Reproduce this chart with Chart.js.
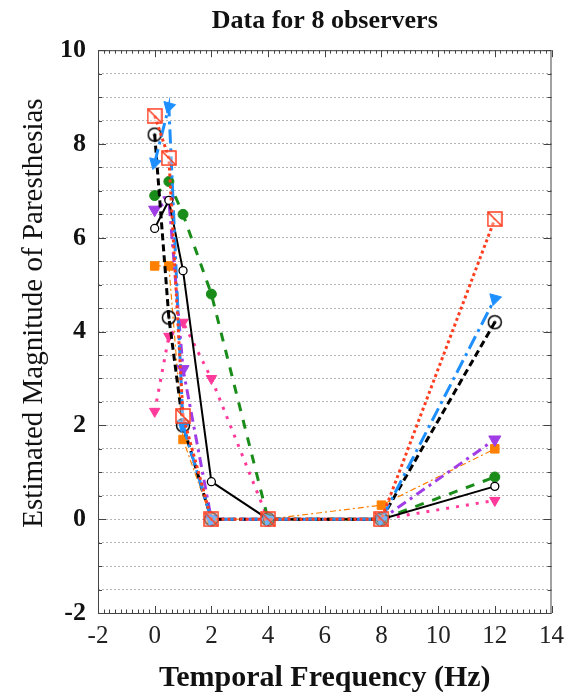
<!DOCTYPE html>
<html><head><meta charset="utf-8">
<script src="https://cdn.jsdelivr.net/npm/chart.js@4/dist/chart.umd.min.js"></script>
<style>html,body{margin:0;padding:0;background:#fff}canvas{display:block}</style>
</head><body>
<canvas id="c" width="572" height="692"></canvas>
<script>
// ---- data ----
const frequencies = [0, 0.5, 1, 2, 4, 8, 12];
const obs1 = [8.6, 7.7, 2.2, 0, 0, 0, 6.4];   // red dotted, crossed square
const obs2 = [7.6, 8.8, 2.0, 0, 0, 0, 4.7];   // blue dash-dot, triangle
const obs3 = [8.2, 4.3, 2.0, 0, 0, 0, 4.2];   // black dashed, dotted circle
const obs4 = [6.2, 6.8, 5.3, 0.8, 0, 0, 0.7]; // black solid, small circle
const obs5 = [6.9, 7.2, 6.5, 4.8, 0, 0, 0.9]; // green dashed, filled circle
const obs6 = [6.6, 6.8, 3.2, 0, 0, 0, 1.7];   // purple dash-dot, down triangle
const obs7 = [5.4, 5.4, 1.7, 0, 0, 0.3, 1.5]; // orange thin dash-dot, square
const obs8 = [2.3, 3.9, 4.2, 3.0, 0, 0, 0.4]; // pink dotted, down triangle
const xTickValues = [-2, 0, 2, 4, 6, 8, 10, 12, 14];
const xTickLabels = ['-2', '0', '2', '4', '6', '8', '10', '12', '14'];
const yTickValues = [-2, 0, 2, 4, 6, 8, 10];
const yTickLabels = ['-2', '0', '2', '4', '6', '8', '10'];
const chartTitle = 'Data for 8 observers';
const xTitle = 'Temporal Frequency (Hz)';
const yTitle = 'Estimated Magnitude of Paresthesias';

const SERIF = "'Liberation Serif', 'DejaVu Serif', serif";

function crossedSquare(size, color) {
  const c = document.createElement('canvas');
  c.width = size + 2; c.height = size + 2;
  const g = c.getContext('2d');
  g.strokeStyle = color; g.lineWidth = 1.5;
  g.fillStyle = 'rgba(255,255,255,0.35)';
  g.fillRect(1, 1, size, size);
  g.strokeRect(1, 1, size, size);
  g.beginPath(); g.moveTo(1, 1); g.lineTo(size + 1, size + 1); g.stroke();
  return c;
}
function dottedCircle(size, color) {
  const c = document.createElement('canvas');
  c.width = size + 2; c.height = size + 2;
  const g = c.getContext('2d');
  const r = size / 2;
  g.strokeStyle = color; g.lineWidth = 1.5;
  g.beginPath(); g.arc(r + 1, r + 1, r - 0.5, 0, Math.PI * 2); g.stroke();
  g.fillStyle = color;
  g.beginPath(); g.arc(r + 1, r + 1, 1.6, 0, Math.PI * 2); g.fill();
  return c;
}
const pts = (ys) => frequencies.map((x, i) => ({x, y: ys[i]}));

const datasets = [
  {data: pts(obs1), borderColor: '#ff3d1f', borderWidth: 3, borderDash: [3, 3],
   pointStyle: crossedSquare(14, '#ff3d1f'), pointRadius: 7},
  {data: pts(obs2), borderColor: '#1e8fff', borderWidth: 3, borderDash: [14, 5, 3, 5],
   pointStyle: 'triangle', pointRotation: 75, pointRadius: 7, pointBackgroundColor: '#1e8fff'},
  {data: pts(obs3), borderColor: '#000', borderWidth: 3, borderDash: [7, 4],
   pointStyle: dottedCircle(14, '#000'), pointRadius: 7},
  {data: pts(obs4), borderColor: '#000', borderWidth: 2, borderDash: [],
   pointStyle: 'circle', pointRadius: 4, pointBackgroundColor: '#fff', pointBorderColor: '#000', pointBorderWidth: 1.3},
  {data: pts(obs5), borderColor: '#1a8c1a', borderWidth: 3, borderDash: [9, 9],
   pointStyle: 'circle', pointRadius: 5, pointBackgroundColor: '#1a8c1a', pointBorderColor: '#1a8c1a'},
  {data: pts(obs6), borderColor: '#a03de6', borderWidth: 3, borderDash: [10, 5, 3, 5],
   pointStyle: 'triangle', pointRotation: 180, pointRadius: 7, pointBackgroundColor: '#a03de6', pointBorderColor: '#a03de6'},
  {data: pts(obs7), borderColor: '#ff8000', borderWidth: 1.2, borderDash: [6, 3, 2, 3],
   pointStyle: 'rect', pointRadius: 6, pointBackgroundColor: '#ff8000', pointBorderColor: '#ff8000'},
  {data: pts(obs8), borderColor: '#ff3a9a', borderWidth: 3, borderDash: [3, 7],
   pointStyle: 'triangle', pointRotation: 180, pointRadius: 6, pointBackgroundColor: '#ff3a9a', pointBorderColor: '#ff3a9a'}
].map(d => Object.assign({tension: 0, fill: false, showLine: true, pointBorderWidth: d.pointBorderWidth || 1,
  pointBorderColor: d.pointBorderColor || d.borderColor}, d));

const framePlugin = {
  id: 'frame',
  beforeDatasetsDraw(chart) {
    const {ctx, chartArea: a, scales: {x, y}} = chart;
    ctx.save();
    ctx.strokeStyle = '#444'; ctx.lineWidth = 1;
    ctx.strokeRect(a.left + 0.5, a.top + 0.5, a.right - a.left - 1, a.bottom - a.top);
    ctx.beginPath();
    for (let k = 0; k <= 80; k++) {
      const v = -2 + k * 0.2;
      const px = Math.round(x.getPixelForValue(v)) + 0.5;
      const len = k % 10 === 0 ? 7 : 3.5;
      ctx.moveTo(px, a.top); ctx.lineTo(px, a.top + len);
      ctx.moveTo(px, a.bottom); ctx.lineTo(px, a.bottom - len);
    }
    for (let k = 0; k <= 24; k++) {
      const v = -2 + k * 0.5;
      const py = Math.round(y.getPixelForValue(v)) + 0.5;
      const len = k % 4 === 0 ? 8 : 4;
      ctx.moveTo(a.left, py); ctx.lineTo(a.left + len, py);
      ctx.moveTo(a.right, py); ctx.lineTo(a.right - len, py);
    }
    ctx.stroke();
    ctx.restore();
  },
  afterDraw(chart) {
    const {ctx} = chart;
    ctx.save();
    ctx.translate(34, 313);
    ctx.rotate(-Math.PI / 2);
    ctx.font = "29px " + SERIF;
    ctx.fillStyle = '#111';
    ctx.textAlign = 'center';
    ctx.textBaseline = 'middle';
    ctx.fillText(yTitle, 0, 0);
    ctx.restore();
  }
};

new Chart(document.getElementById('c'), {
  type: 'line',
  data: {datasets},
  plugins: [framePlugin],
  options: {
    responsive: false, animation: false, devicePixelRatio: 1,
    layout: {padding: {left: 0, right: 17, top: 0, bottom: 0}},
    plugins: {
      legend: {display: false}, tooltip: {enabled: false},
      title: {display: true, text: chartTitle, color: '#111', fullSize: false,
        font: {family: SERIF, size: 26, weight: 'bold', lineHeight: 1.2}, padding: {top: 6, bottom: 13}}
    },
    scales: {
      x: {
        type: 'linear', min: -2, max: 14,
        afterBuildTicks: (s) => { s.ticks = xTickValues.map(v => ({value: v})); },
        ticks: {callback: (v) => { const i = xTickValues.indexOf(v); return i >= 0 ? xTickLabels[i] : ''; },
          font: {family: SERIF, size: 25}, color: '#222', padding: 8, maxRotation: 0, autoSkip: false},
        grid: {display: false, drawTicks: false},
        border: {display: false},
        title: {display: true, text: xTitle, color: '#111',
          font: {family: SERIF, size: 30, weight: 'bold', lineHeight: 0.9}, padding: {top: 0, bottom: 0}},
        afterFit: (s) => { s.height = 79; }
      },
      y: {
        type: 'linear', min: -2, max: 10,
        ticks: {stepSize: 0.5, autoSkip: false,
          callback: (v) => { const i = yTickValues.indexOf(v); return i >= 0 ? yTickLabels[i] : ''; },
          font: {family: SERIF, size: 26, weight: 'bold'}, color: '#111', padding: 12},
        grid: {display: true, drawTicks: false, color: '#b5b5b5', lineWidth: 1},
        border: {display: false, dash: [2, 2]},
        afterFit: (s) => { s.width = 98; }
      }
    }
  }
});
</script>
</body></html>
